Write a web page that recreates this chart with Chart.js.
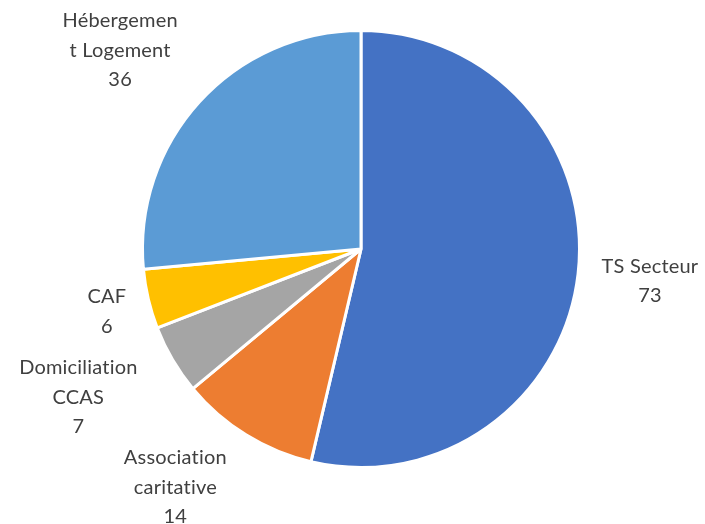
<!DOCTYPE html>
<html>
<head>
<meta charset="utf-8">
<script src="https://cdn.jsdelivr.net/npm/chart.js@4.4.1/dist/chart.umd.min.js"></script>
<style>
  html, body { margin: 0; padding: 0; background: #ffffff; }
  #wrap { width: 705px; height: 524px; position: relative; }
</style>
</head>
<body>
<div id="wrap"><canvas id="pie"></canvas></div>
<script>
// Categories (label lines as shown on the chart) and values
const categories = ["TS Secteur", "Association caritative", "Domiciliation CCAS", "CAF", "Hébergement Logement"];
const labelLines = [
  ["TS Secteur"],
  ["Association", "caritative"],
  ["Domiciliation", "CCAS"],
  ["CAF"],
  ["Hébergemen", "t Logement"],
];
const values = [73, 14, 7, 6, 36];

// Slice colours (Office palette)
const sliceColors = ["#4472C4", "#ED7D31", "#A5A5A5", "#FFC000", "#5B9BD5"];

// Small nudges for the outside labels, in px
const labelNudge = [[4, 1], [-33, -2], [-26, 5], [-3, 1], [-22, -8]];

const FONT = "20px Lato";
const LINE_H = 29.5;

// Draws category + value outside each slice
const outsideLabels = {
  id: "outsideLabels",
  afterDatasetsDraw(chart) {
    const ctx = chart.ctx;
    const meta = chart.getDatasetMeta(0);
    ctx.save();
    ctx.font = FONT;
    ctx.letterSpacing = "0.2px"; // also stops the "ti" ligature
    ctx.fillStyle = "#404040";
    ctx.textAlign = "center";
    ctx.textBaseline = "middle";
    meta.data.forEach((arc, i) => {
      const lines = labelLines[i].concat([String(values[i])]);
      const mid = (arc.startAngle + arc.endAngle) / 2;
      const cos = Math.cos(mid), sin = Math.sin(mid);
      const w = Math.max(...lines.map(l => ctx.measureText(l).width));
      const h = lines.length * LINE_H;
      const ax = arc.x + (arc.outerRadius + 20) * cos;
      const ay = arc.y + (arc.outerRadius + 20) * sin;
      const cx = ax + cos * w / 2 + labelNudge[i][0];
      const cy = ay + sin * h / 2 + labelNudge[i][1];
      lines.forEach((l, k) => {
        ctx.fillText(l, cx, cy - h / 2 + LINE_H * (k + 0.5));
      });
    });
    ctx.restore();
  },
};

new Chart(document.getElementById("pie"), {
  type: "pie",
  plugins: [outsideLabels],
  data: {
    labels: categories,
    datasets: [
      {
        data: values,
        backgroundColor: sliceColors,
        borderColor: "#ffffff",
        borderWidth: 3,
      },
    ],
  },
  options: {
    responsive: true,
    maintainAspectRatio: false,
    animation: false,
    layout: { padding: { top: 29, bottom: 55, left: 17, right: 0 } },
    plugins: {
      legend: { display: false },
      tooltip: { enabled: false },
    },
  },
});
</script>
</body>
</html>
